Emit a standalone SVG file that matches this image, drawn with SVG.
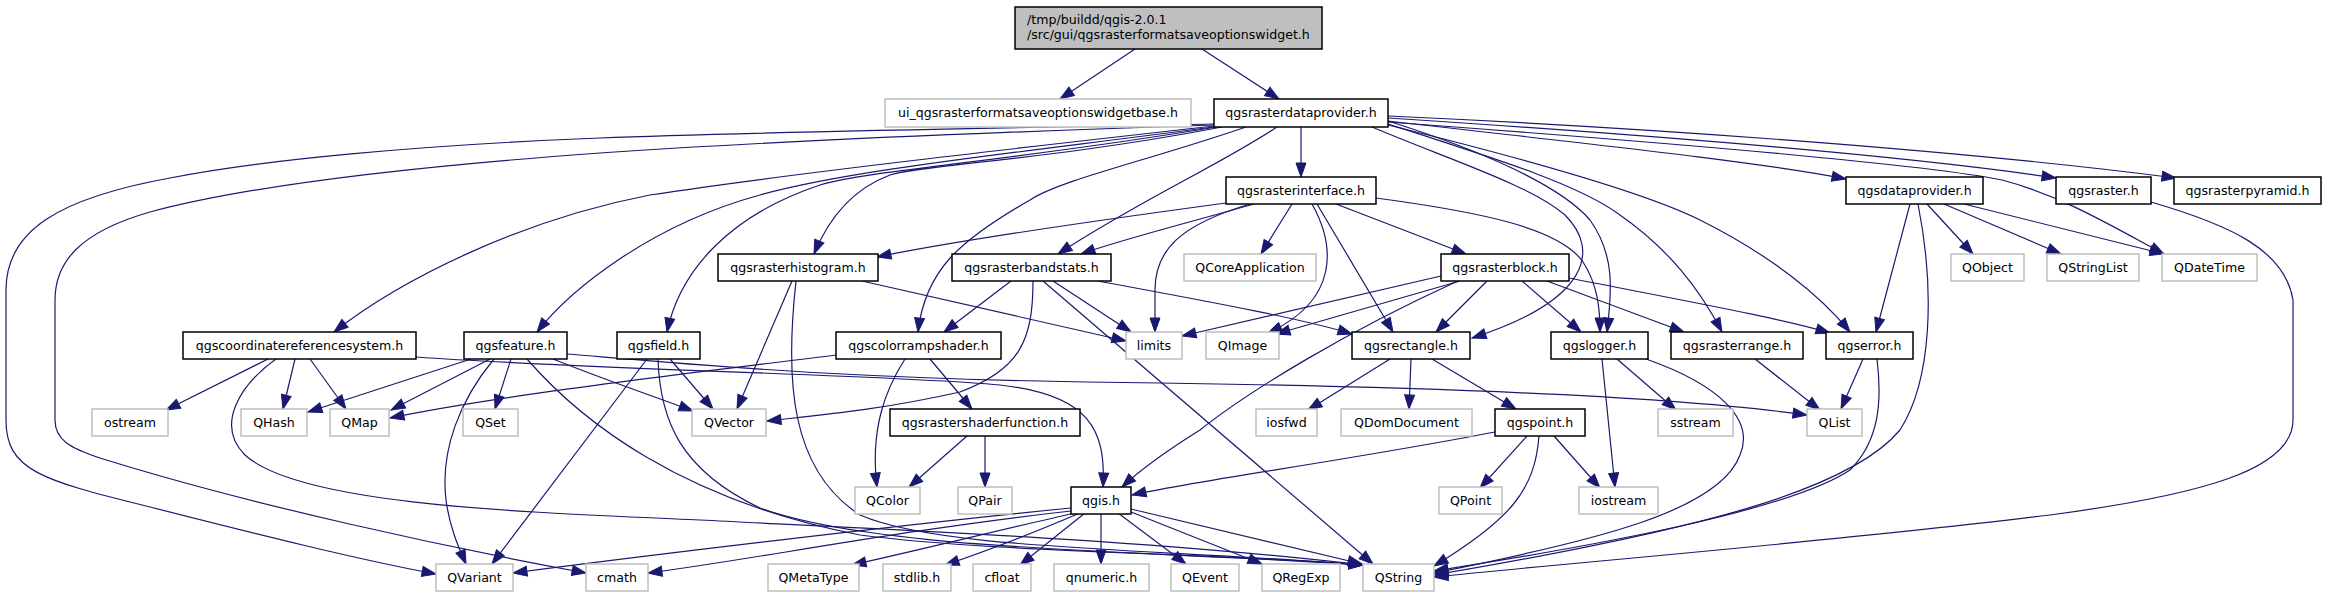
<svg xmlns="http://www.w3.org/2000/svg" width="2327" height="597" viewBox="0 0 2327 597">
<defs>
<marker id="a" markerWidth="14" markerHeight="10" refX="14" refY="5" orient="auto" markerUnits="userSpaceOnUse" overflow="visible"><path d="M0,0 L14,5 L0,10 z" fill="#191970" stroke="#191970" stroke-width="1"/></marker>
</defs>
<style>
.n rect{fill:#fff;stroke:#000;stroke-width:1.5}
.x rect{fill:#fff;stroke:#bfbfbf;stroke-width:1.5}
.r rect{fill:#bfbfbf;stroke:#000;stroke-width:1.5}
text{font-family:"DejaVu Sans",sans-serif;font-size:12.6px;fill:#000;text-anchor:middle}
.r text{text-anchor:start}
#edges path{fill:none;stroke:#191970;stroke-width:1.2;marker-end:url(#a)}
</style>
<rect width="2327" height="597" fill="#fff"/>
<g id="edges">
<path d="M1135,49 L1060,99"/>
<path d="M1202,49 L1279,99"/>
<path d="M1301,127 L1301,177"/>
<path d="M1214,124 C1000,128 750,132 600,138 C420,145 260,160 170,178 C60,198 6,230 6,290 L6,420 C6,470 40,480 150,507 C260,535 360,560 436,574"/>
<path d="M1214,125 C1000,132 760,142 600,153 C420,166 250,185 150,212 C80,232 55,262 55,300 L55,420 C55,440 70,448 100,458 C250,505 450,548 586,573"/>
<path d="M1214,126 C1000,150 780,175 650,195 C520,220 400,280 334,332"/>
<path d="M1214,127 C1000,155 850,170 760,195 C650,225 570,290 537,332"/>
<path d="M1216,127 C1020,160 870,170 820,185 C730,215 680,270 667,332"/>
<path d="M1222,127 C1050,160 920,165 890,175 C850,190 828,220 814,254"/>
<path d="M1246,127 C1150,160 1060,180 1030,200 C960,240 925,270 918,332"/>
<path d="M1277,127 C1220,165 1140,200 1058,254"/>
<path d="M1372,127 C1450,160 1530,185 1565,215 C1600,250 1590,300 1472,338"/>
<path d="M1388,121 C1480,150 1560,185 1590,220 C1615,255 1612,290 1607,332"/>
<path d="M1388,124 C1500,160 1580,185 1620,215 C1670,250 1700,290 1722,332"/>
<path d="M1388,125 C1530,160 1650,195 1700,220 C1770,255 1820,295 1850,332"/>
<path d="M1388,121 C1550,140 1750,160 1846,179"/>
<path d="M1388,118 C1650,135 1900,155 2056,178"/>
<path d="M1388,116 C1700,130 2000,155 2176,178"/>
<path d="M1388,122 C1700,145 1930,165 2002,180 C2060,195 2110,225 2164,254"/>
<path d="M1226,203 C1100,220 960,240 877,257"/>
<path d="M1254,204 C1180,225 1120,240 1081,254"/>
<path d="M1250,204 C1180,225 1155,250 1155,290 L1155,332"/>
<path d="M1292,204 L1261,254"/>
<path d="M1312,204 C1335,245 1340,300 1268,333"/>
<path d="M1317,204 L1393,332"/>
<path d="M1336,204 L1466,254"/>
<path d="M1376,198 C1480,212 1560,228 1583,262 C1598,285 1600,310 1600,332"/>
<path d="M1011,281 L944,332"/>
<path d="M1033,281 C1033,340 1020,370 960,392 C880,410 820,415 767,421"/>
<path d="M1043,281 L1373,564"/>
<path d="M1053,281 L1131,332"/>
<path d="M1098,281 C1200,300 1300,318 1352,334"/>
<path d="M792,281 L737,409"/>
<path d="M796,281 C785,380 790,470 860,515 C940,550 1150,548 1363,565"/>
<path d="M862,281 L1126,341"/>
<path d="M268,359 L166,410"/>
<path d="M276,359 C240,385 215,425 245,455 C300,505 520,512 700,520 C900,530 1150,540 1363,565"/>
<path d="M295,359 L283,409"/>
<path d="M310,359 L346,409"/>
<path d="M416,357 C600,370 900,375 1000,385 C1090,395 1106,430 1103,487"/>
<path d="M471,359 L308,412"/>
<path d="M490,359 L391,410"/>
<path d="M494,359 C460,400 440,450 446,500 C450,530 460,550 466,564"/>
<path d="M511,359 L495,409"/>
<path d="M527,359 C580,420 680,500 860,535 C1000,553 1200,552 1363,565"/>
<path d="M553,359 C600,378 650,395 693,411"/>
<path d="M567,354 C700,365 850,380 1160,383 C1500,388 1700,400 1807,415"/>
<path d="M647,359 L492,564"/>
<path d="M670,359 L713,409"/>
<path d="M658,359 C660,420 680,470 760,508 C880,552 1150,550 1363,565"/>
<path d="M836,355 C700,372 500,395 390,418"/>
<path d="M905,359 C885,390 870,430 877,487"/>
<path d="M930,359 L972,409"/>
<path d="M967,436 L909,487"/>
<path d="M985,436 L985,487"/>
<path d="M1441,276 L1182,336"/>
<path d="M1460,281 L1276,334"/>
<path d="M1458,281 C1350,330 1250,390 1200,430 C1160,455 1140,470 1122,487"/>
<path d="M1487,281 L1436,332"/>
<path d="M1522,281 L1581,332"/>
<path d="M1547,281 L1684,332"/>
<path d="M1569,278 C1680,300 1780,318 1830,333"/>
<path d="M1390,359 L1308,410"/>
<path d="M1411,359 L1409,409"/>
<path d="M1432,359 L1516,409"/>
<path d="M1495,432 C1350,460 1200,480 1132,495"/>
<path d="M1527,436 L1480,488"/>
<path d="M1554,436 L1600,488"/>
<path d="M1539,436 C1535,490 1510,520 1434,566"/>
<path d="M1617,359 L1676,410"/>
<path d="M1602,359 L1615,487"/>
<path d="M1646,359 C1720,385 1755,420 1740,455 C1720,510 1600,540 1434,573"/>
<path d="M1755,359 L1820,410"/>
<path d="M1863,359 L1841,409"/>
<path d="M1877,359 C1882,400 1880,440 1850,470 C1790,510 1600,545 1434,571"/>
<path d="M1910,204 L1876,332"/>
<path d="M1918,204 C1935,290 1932,380 1900,430 C1850,490 1700,530 1434,575"/>
<path d="M1927,204 L1973,254"/>
<path d="M1944,204 L2061,254"/>
<path d="M1964,204 L2164,254"/>
<path d="M2151,202 C2230,225 2285,250 2293,300 L2293,420 C2293,470 2200,495 2050,515 C1850,540 1600,560 1434,577"/>
<path d="M1071,508 C900,525 650,555 513,573"/>
<path d="M1071,511 C900,530 750,560 648,573"/>
<path d="M1075,513 C1000,530 920,550 852,565"/>
<path d="M1080,513 C1040,530 990,550 945,565"/>
<path d="M1085,513 L1020,565"/>
<path d="M1101,513 L1101,564"/>
<path d="M1118,513 L1186,564"/>
<path d="M1131,512 L1262,564"/>
<path d="M1131,509 L1362,564"/>
</g>
<g id="n_root" class="r"><rect x="1015" y="7" width="307" height="42"/><text x="1027" y="24">/tmp/buildd/qgis-2.0.1</text><text x="1027" y="39">/src/gui/qgsrasterformatsaveoptionswidget.h</text></g>
<g id="n_ui" class="x"><rect x="885" y="99" width="306" height="28"/><text x="1038" y="117">ui_qgsrasterformatsaveoptionswidgetbase.h</text></g>
<g id="n_rdp" class="n"><rect x="1214" y="99" width="174" height="28"/><text x="1301" y="117">qgsrasterdataprovider.h</text></g>
<g id="n_rif" class="n"><rect x="1226" y="177" width="150" height="27"/><text x="1301" y="195">qgsrasterinterface.h</text></g>
<g id="n_dp" class="n"><rect x="1846" y="177" width="137" height="27"/><text x="1914.5" y="195">qgsdataprovider.h</text></g>
<g id="n_raster" class="n"><rect x="2056" y="177" width="95" height="27"/><text x="2103.5" y="195">qgsraster.h</text></g>
<g id="n_pyramid" class="n"><rect x="2174" y="177" width="147" height="27"/><text x="2247.5" y="195">qgsrasterpyramid.h</text></g>
<g id="n_hist" class="n"><rect x="718" y="254" width="160" height="27"/><text x="798" y="272">qgsrasterhistogram.h</text></g>
<g id="n_bstats" class="n"><rect x="952" y="254" width="159" height="27"/><text x="1031.5" y="272">qgsrasterbandstats.h</text></g>
<g id="n_qcoreapp" class="x"><rect x="1184" y="254" width="132" height="27"/><text x="1250" y="272">QCoreApplication</text></g>
<g id="n_rblock" class="n"><rect x="1441" y="254" width="128" height="27"/><text x="1505" y="272">qgsrasterblock.h</text></g>
<g id="n_qobject" class="x"><rect x="1951" y="254" width="73" height="27"/><text x="1987.5" y="272">QObject</text></g>
<g id="n_qstringlist" class="x"><rect x="2047" y="254" width="92" height="27"/><text x="2093" y="272">QStringList</text></g>
<g id="n_qdatetime" class="x"><rect x="2162" y="254" width="95" height="27"/><text x="2209.5" y="272">QDateTime</text></g>
<g id="n_crs" class="n"><rect x="183" y="332" width="233" height="27"/><text x="299.5" y="350">qgscoordinatereferencesystem.h</text></g>
<g id="n_feature" class="n"><rect x="464" y="332" width="103" height="27"/><text x="515.5" y="350">qgsfeature.h</text></g>
<g id="n_field" class="n"><rect x="617" y="332" width="83" height="27"/><text x="658.5" y="350">qgsfield.h</text></g>
<g id="n_crshader" class="n"><rect x="836" y="332" width="165" height="27"/><text x="918.5" y="350">qgscolorrampshader.h</text></g>
<g id="n_limits" class="x"><rect x="1126" y="332" width="56" height="27"/><text x="1154" y="350">limits</text></g>
<g id="n_qimage" class="x"><rect x="1206" y="332" width="73" height="27"/><text x="1242.5" y="350">QImage</text></g>
<g id="n_rect" class="n"><rect x="1352" y="332" width="118" height="27"/><text x="1411" y="350">qgsrectangle.h</text></g>
<g id="n_logger" class="n"><rect x="1551" y="332" width="97" height="27"/><text x="1599.5" y="350">qgslogger.h</text></g>
<g id="n_rrange" class="n"><rect x="1671" y="332" width="132" height="27"/><text x="1737" y="350">qgsrasterrange.h</text></g>
<g id="n_error" class="n"><rect x="1826" y="332" width="87" height="27"/><text x="1869.5" y="350">qgserror.h</text></g>
<g id="n_ostream" class="x"><rect x="92" y="409" width="76" height="27"/><text x="130" y="427">ostream</text></g>
<g id="n_qhash" class="x"><rect x="241" y="409" width="66" height="27"/><text x="274" y="427">QHash</text></g>
<g id="n_qmap" class="x"><rect x="330" y="409" width="59" height="27"/><text x="359.5" y="427">QMap</text></g>
<g id="n_qset" class="x"><rect x="463" y="409" width="55" height="27"/><text x="490.5" y="427">QSet</text></g>
<g id="n_qvector" class="x"><rect x="692" y="409" width="74" height="27"/><text x="729" y="427">QVector</text></g>
<g id="n_rsf" class="n"><rect x="890" y="409" width="190" height="27"/><text x="985" y="427">qgsrastershaderfunction.h</text></g>
<g id="n_iosfwd" class="x"><rect x="1256" y="409" width="61" height="27"/><text x="1286.5" y="427">iosfwd</text></g>
<g id="n_qdomdocument" class="x"><rect x="1341" y="409" width="131" height="27"/><text x="1406.5" y="427">QDomDocument</text></g>
<g id="n_qgspoint" class="n"><rect x="1495" y="409" width="90" height="27"/><text x="1540" y="427">qgspoint.h</text></g>
<g id="n_sstream" class="x"><rect x="1658" y="409" width="75" height="27"/><text x="1695.5" y="427">sstream</text></g>
<g id="n_qlist" class="x"><rect x="1807" y="409" width="55" height="27"/><text x="1834.5" y="427">QList</text></g>
<g id="n_qcolor" class="x"><rect x="855" y="487" width="65" height="27"/><text x="887.5" y="505">QColor</text></g>
<g id="n_qpair" class="x"><rect x="958" y="487" width="54" height="27"/><text x="985" y="505">QPair</text></g>
<g id="n_qgis" class="n"><rect x="1071" y="487" width="60" height="27"/><text x="1101" y="505">qgis.h</text></g>
<g id="n_qpoint" class="x"><rect x="1439" y="487" width="63" height="27"/><text x="1470.5" y="505">QPoint</text></g>
<g id="n_iostream" class="x"><rect x="1579" y="487" width="79" height="27"/><text x="1618.5" y="505">iostream</text></g>
<g id="n_qvariant" class="x"><rect x="436" y="564" width="77" height="27"/><text x="474.5" y="582">QVariant</text></g>
<g id="n_cmath" class="x"><rect x="586" y="564" width="62" height="27"/><text x="617" y="582">cmath</text></g>
<g id="n_qmetatype" class="x"><rect x="768" y="564" width="91" height="27"/><text x="813.5" y="582">QMetaType</text></g>
<g id="n_stdlib" class="x"><rect x="883" y="564" width="68" height="27"/><text x="917" y="582">stdlib.h</text></g>
<g id="n_cfloat" class="x"><rect x="973" y="564" width="58" height="27"/><text x="1002" y="582">cfloat</text></g>
<g id="n_qnumeric" class="x"><rect x="1054" y="564" width="95" height="27"/><text x="1101.5" y="582">qnumeric.h</text></g>
<g id="n_qevent" class="x"><rect x="1171" y="564" width="68" height="27"/><text x="1205" y="582">QEvent</text></g>
<g id="n_qregexp" class="x"><rect x="1262" y="564" width="78" height="27"/><text x="1301" y="582">QRegExp</text></g>
<g id="n_qstring" class="x"><rect x="1363" y="564" width="71" height="27"/><text x="1398.5" y="582">QString</text></g>
</svg>
